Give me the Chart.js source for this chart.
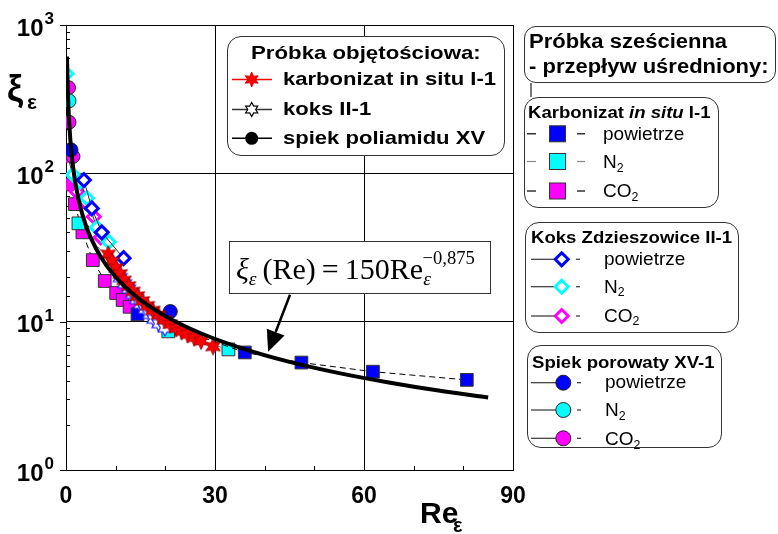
<!DOCTYPE html>
<html>
<head>
<meta charset="utf-8">
<script src="https://cdn.jsdelivr.net/npm/chart.js@4.4.1/dist/chart.umd.min.js"></script>
<style>
body { margin: 0; background: #fff; }
#wrap { position: relative; width: 778px; height: 534px; overflow: hidden; font-family: "Liberation Sans", Arial, sans-serif; }
#c { position: absolute; left: 0; top: 0; }
.box { position: absolute; border: 1.3px solid #333; border-radius: 12px; background: #fff; box-sizing: border-box; }
.t { position: absolute; white-space: nowrap; line-height: 1; transform-origin: 0 0; color: #000; }
.sub { font-size: 0.65em; position: relative; top: 0.3em; }
#marks { position: absolute; left: 0; top: 0; }
</style>
</head>
<body>
<div id="wrap">
  <canvas id="c" width="778" height="534"></canvas>
</div>
<script>
// --- dane ---
// dopasowanie xi = 150 Re^-0.875
const fitRe = [0.2, 0.3, 0.5, 0.75, 1, 1.5, 2, 3, 4, 5, 7, 10, 14, 20, 27, 35, 45, 55, 65, 75, 85];
const fitXi = [613, 430, 275, 193, 150, 105, 81.8, 57.4, 44.6, 36.7, 27.3, 20.0, 14.9, 10.9, 8.39, 6.69, 5.36, 4.50, 3.89, 3.43, 3.08];

// probka objetosciowa
const karbVolRe = [8.5, 9.3, 10.1, 10.9, 11.7, 12.6, 13.5, 14.4, 15.4, 16.4, 17.5, 18.6, 19.8, 21.0, 22.2, 23.3, 24.5, 25.8, 27.2, 29.6];
const karbVolXi = [28.5, 25.4, 23.0, 21.0, 19.0, 17.4, 16.0, 14.9, 13.8, 12.8, 11.9, 11.1, 10.3, 9.6, 9.0, 8.6, 8.2, 7.8, 7.4, 6.8];
const koksVolRe = [10.9, 11.8, 12.6, 13.4, 14.2, 15.0, 15.9, 16.8, 17.7, 18.7, 19.9];
const koksVolXi = [19.8, 18.0, 16.6, 15.3, 14.1, 13.1, 12.1, 11.2, 10.4, 9.7, 9.1];

// probka szescienna - karbonizat (kwadraty)
const karbPowRe = [14.4, 36.0, 47.4, 61.8, 80.7];
const karbPowXi = [11.2, 6.2, 5.3, 4.6, 4.05];
const karbN2Re = [2.5, 20.6, 32.7];
const karbN2Xi = [46, 8.6, 6.5];
const karbCO2Re = [1.2, 1.8, 3.3, 5.4, 7.8, 10.1, 11.4, 12.8];
const karbCO2Xi = [84, 62, 40, 26, 18.8, 15.6, 14.0, 12.6];

// koks Zdzieszowice (romby)
const koksPowRe = [3.6, 5.2, 7.2, 11.6];
const koksPowXi = [90, 58, 40, 26.8];
const koksN2Re = [0.1, 1.4, 2.8, 4.2, 6.2, 8.6];
const koksN2Xi = [470, 98, 88, 68, 43, 34.5];
const koksCO2Re = [0.3, 2.2, 3.9, 5.6, 7.0];
const koksCO2Xi = [133, 75, 64, 51, 37];

// spiek porowaty (kola)
const spiekPowRe = [1.0, 21.0];
const spiekPowXi = [144, 11.7];
const spiekN2Re = [0.6];
const spiekN2Xi = [308];
const spiekCO2Re = [0.5, 0.6, 1.4];
const spiekCO2Xi = [378, 221, 130];

const xLabels = [0, 30, 60, 90];
const yLabels = [1, 10, 100, 1000];

const pts = (xs, ys) => xs.map((x, i) => ({ x: x, y: ys[i] }));

function starCanvas(R, r, fill, stroke, lw) {
    const s = Math.ceil(2 * R + lw + 2);
    const c = document.createElement('canvas');
    c.width = s; c.height = s;
    const g = c.getContext('2d');
    g.beginPath();
    for (let i = 0; i < 12; i++) {
        const a = -Math.PI / 2 + i * Math.PI / 6;
        const rr = i % 2 ? r : R;
        g.lineTo(s / 2 + rr * Math.cos(a), s / 2 + rr * Math.sin(a));
    }
    g.closePath();
    g.fillStyle = fill; g.fill();
    g.lineWidth = lw; g.strokeStyle = stroke; g.stroke();
    return c;
}

const redStar = starCanvas(8.5, 4.3, '#ff0000', '#900000', 0.8);
const blueStar = starCanvas(8, 4.6, '#ffffff', '#1a1aff', 1.2);

function squares(xs, ys, color, lineColor) {
    return { data: pts(xs, ys), showLine: true, borderColor: lineColor, borderWidth: 1, borderDash: [6, 4],
        pointStyle: 'rect', pointRadius: 9, pointBackgroundColor: color, pointBorderColor: '#333', pointBorderWidth: 1 };
}
function diamonds(xs, ys, color) {
    return { data: pts(xs, ys), showLine: true, borderColor: '#333', borderWidth: 1,
        pointStyle: 'rectRot', pointRadius: 6.5, pointBackgroundColor: '#fff', pointBorderColor: color, pointBorderWidth: 3 };
}
function circles(xs, ys, color) {
    return { data: pts(xs, ys), showLine: false,
        pointStyle: 'circle', pointRadius: 7, pointBackgroundColor: color, pointBorderColor: '#222', pointBorderWidth: 1 };
}

const datasets = [
    { data: pts(fitRe, fitXi), showLine: true, borderColor: '#000', borderWidth: 4, pointRadius: 0, cubicInterpolationMode: 'monotone' },
    { data: pts(karbVolRe, karbVolXi), showLine: true, borderColor: '#ff0000', borderWidth: 1, pointStyle: redStar },
    { data: pts(koksVolRe, koksVolXi), showLine: true, borderColor: '#333', borderWidth: 1, pointStyle: blueStar },
    circles(spiekPowRe, spiekPowXi, '#0000ff'),
    circles(spiekN2Re, spiekN2Xi, '#00ffff'),
    circles(spiekCO2Re, spiekCO2Xi, '#ff00ff'),
    diamonds(koksPowRe, koksPowXi, '#0000ff'),
    diamonds(koksN2Re, koksN2Xi, '#00ffff'),
    diamonds(koksCO2Re, koksCO2Xi, '#ff00ff'),
    squares(karbPowRe, karbPowXi, '#0000ff', '#000'),
    squares(karbN2Re, karbN2Xi, '#00ffff', '#777'),
    squares(karbCO2Re, karbCO2Xi, '#ff00ff', '#000')
];

// Osie, podzialki, opisy i strzalka
const axisDecor = {
    id: 'axisDecor',
    beforeDatasetsDraw(chart) {
        const { ctx, chartArea: a, scales: { x, y } } = chart;
        ctx.save();
        ctx.strokeStyle = '#000';
        ctx.lineWidth = 1;
        ctx.strokeRect(a.left + 0.5, a.top + 0.5, a.right - a.left, a.bottom - a.top);
        ctx.beginPath();
        y.ticks.forEach(t => {
            const py = Math.round(y.getPixelForValue(t.value)) + 0.5;
            if (yLabels.includes(t.value)) {
                ctx.moveTo(a.left - 6, py); ctx.lineTo(a.left, py);
            } else {
                ctx.moveTo(a.left, py); ctx.lineTo(a.left + 4, py);
            }
        });
        x.ticks.forEach(t => {
            if (xLabels.includes(t.value)) return;
            const px = Math.round(x.getPixelForValue(t.value)) + 0.5;
            ctx.moveTo(px, a.bottom); ctx.lineTo(px, a.bottom - 4);
        });
        ctx.stroke();
        ctx.restore();
    },
    afterDraw(chart) {
        const { ctx, scales: { x, y } } = chart;
        ctx.save();
        ctx.fillStyle = '#000';
        ctx.textBaseline = 'alphabetic';
        // etykiety osi X
        ctx.font = 'bold 23px "Liberation Sans", Arial';
        ctx.textAlign = 'center';
        xLabels.forEach(v => ctx.fillText(String(v), x.getPixelForValue(v), 503));
        // etykiety osi Y: 10^n
        ctx.textAlign = 'left';
        yLabels.forEach((v, i) => {
            const py = y.getPixelForValue(v);
            ctx.font = 'bold 24px "Liberation Sans", Arial';
            const w = ctx.measureText('10').width;
            ctx.fillText('10', 43.5 - w, py + 10.5);
            ctx.font = 'bold 17px "Liberation Sans", Arial';
            ctx.fillText(String(i), 44.5, py - 1);
        });
        // tytuly osi
        ctx.font = 'bold 36px "Liberation Sans", Arial';
        ctx.fillText('ξ', 7, 101);
        ctx.font = 'bold 21px "Liberation Sans", Arial';
        ctx.fillText('ε', 27, 109);
        ctx.font = 'bold 30px "Liberation Sans", Arial';
        ctx.fillText('Re', 420, 523);
        ctx.font = 'bold 20px "Liberation Sans", Arial';
        ctx.fillText('ε', 453, 532);
        // strzalka do krzywej
        const x0 = x.getPixelForValue(45.1), y0 = y.getPixelForValue(15.2);
        const x1 = x.getPixelForValue(40.7), y1 = y.getPixelForValue(6.28);
        const ang = Math.atan2(y1 - y0, x1 - x0);
        const hl = 21, hw = 9.5;
        const bx = x1 - hl * Math.cos(ang), by = y1 - hl * Math.sin(ang);
        ctx.strokeStyle = '#000';
        ctx.lineWidth = 2.5;
        ctx.beginPath(); ctx.moveTo(x0, y0); ctx.lineTo(bx, by); ctx.stroke();
        ctx.beginPath();
        ctx.moveTo(x1, y1);
        ctx.lineTo(bx + hw * Math.sin(ang), by - hw * Math.cos(ang));
        ctx.lineTo(bx - hw * Math.sin(ang), by + hw * Math.cos(ang));
        ctx.closePath(); ctx.fill();
        ctx.restore();
    }
};

new Chart(document.getElementById('c'), {
    type: 'scatter',
    data: { datasets: datasets },
    options: {
        responsive: false,
        animation: false,
        devicePixelRatio: 1,
        events: [],
        layout: { padding: { left: 66, top: 25, right: 265, bottom: 64 } },
        plugins: { legend: { display: false }, tooltip: { enabled: false } },
        scales: {
            x: {
                type: 'linear', min: 0, max: 90,
                ticks: { display: false, stepSize: 10 },
                grid: { drawTicks: false, color: c => (c.tick && (c.tick.value === 30 || c.tick.value === 60)) ? '#000' : 'rgba(0,0,0,0)' },
                border: { display: true, color: '#000', width: 1 }
            },
            y: {
                type: 'logarithmic', min: 1, max: 1000,
                ticks: { display: false },
                grid: { drawTicks: false, color: c => (c.tick && (c.tick.value === 10 || c.tick.value === 100)) ? '#000' : 'rgba(0,0,0,0)' },
                border: { display: true, color: '#000', width: 1 }
            }
        }
    },
    plugins: [axisDecor]
});

// --- legendy i wzor (HTML) ---
const wrap = document.getElementById('wrap');

function addBox(left, top, w, h, radius) {
    const d = document.createElement('div');
    d.className = 'box';
    Object.assign(d.style, { left: left + 'px', top: top + 'px', width: w + 'px', height: h + 'px' });
    if (radius !== undefined) d.style.borderRadius = radius + 'px';
    wrap.appendChild(d);
    return d;
}

function addText(html, left, base, size, opts) {
    opts = opts || {};
    const d = document.createElement('div');
    d.className = 't';
    d.innerHTML = html;
    d.style.fontSize = size + 'px';
    if (opts.bold) d.style.fontWeight = 'bold';
    if (opts.serif) d.style.fontFamily = '"Liberation Serif", "Times New Roman", serif';
    const asc = opts.serif ? 0.8375 : 0.8465;
    d.style.top = (base - asc * size) + 'px';
    const sx = opts.sx || 1;
    if (sx !== 1) d.style.transform = 'scaleX(' + sx + ')';
    wrap.appendChild(d);
    if (opts.center) left = left - d.offsetWidth * sx / 2;
    d.style.left = left + 'px';
    return d;
}

addBox(524, 26, 252, 57, 12);
addBox(524, 97, 195, 111, 14);
addBox(525, 222, 214, 111, 14);
addBox(527, 345, 195, 103, 14);
addBox(227, 36, 278, 120, 14);
addBox(229, 241, 262, 53, 0);

const svgNS = 'http://www.w3.org/2000/svg';
const svg = document.createElementNS(svgNS, 'svg');
svg.setAttribute('id', 'marks');
svg.setAttribute('width', '778');
svg.setAttribute('height', '534');
wrap.appendChild(svg);

function el(name, attrs) {
    const e = document.createElementNS(svgNS, name);
    for (const k in attrs) e.setAttribute(k, attrs[k]);
    svg.appendChild(e);
    return e;
}
function starPts(cx, cy, R, r) {
    const p = [];
    for (let i = 0; i < 12; i++) {
        const a = -Math.PI / 2 + i * Math.PI / 6;
        const rr = i % 2 ? r : R;
        p.push((cx + rr * Math.cos(a)).toFixed(2) + ',' + (cy + rr * Math.sin(a)).toFixed(2));
    }
    return p.join(' ');
}

// laczenie ramek po prawej
el('line', { x1: 531, y1: 83, x2: 531, y2: 97, stroke: '#333', 'stroke-width': 1.3 });

// legenda wewnatrz wykresu
el('line', { x1: 232, y1: 79.5, x2: 272, y2: 79.5, stroke: '#ff0000', 'stroke-width': 1.3 });
el('polygon', { points: starPts(251.7, 79.5, 7.5, 3.8), fill: '#ff0000', stroke: '#c00000', 'stroke-width': 0.8 });
el('line', { x1: 232, y1: 109.5, x2: 272, y2: 109.5, stroke: '#333', 'stroke-width': 1.3 });
el('polygon', { points: starPts(251.7, 109.5, 7, 4), fill: '#fff', stroke: '#000', 'stroke-width': 1.2 });
el('line', { x1: 232, y1: 138.3, x2: 272, y2: 138.3, stroke: '#000', 'stroke-width': 1.6 });
el('circle', { cx: 251.7, cy: 138.3, r: 6.5, fill: '#000' });

addText('Próbka objętościowa:', 366, 59.3, 19, { bold: true, sx: 1.17, center: true });
addText('karbonizat in situ I-1', 282.7, 85, 19, { bold: true, sx: 1.16 });
addText('koks II-1', 282.7, 115, 19, { bold: true, sx: 1.16 });
addText('spiek poliamidu XV', 282.7, 144, 19, { bold: true, sx: 1.16 });

// legenda prawa
addText('Próbka sześcienna', 529, 48, 20, { bold: true, sx: 1.1 });
addText('- przepływ uśredniony:', 529, 73, 20, { bold: true, sx: 1.1 });

const gasLabels = ['powietrze', 'N<span class="sub">2</span>', 'CO<span class="sub">2</span>'];
const gasColors = ['#0000ff', '#00ffff', '#ff00ff'];

addText('Karbonizat <i>in situ</i> I-1', 528, 118.3, 16, { bold: true, sx: 1.16 });
[133.8, 161.5, 191].forEach((cy, i) => {
    const lc = i === 1 ? '#888' : '#000';
    el('line', { x1: 527, y1: cy, x2: 536, y2: cy, stroke: lc, 'stroke-width': 1.2 });
    el('line', { x1: 577, y1: cy, x2: 585, y2: cy, stroke: lc, 'stroke-width': 1.2 });
    el('rect', { x: 549.5, y: cy - 8, width: 16, height: 16, fill: gasColors[i], stroke: '#333', 'stroke-width': 1 });
    addText(gasLabels[i], 603, [140, 168.3, 197.3][i], 19);
});

addText('Koks Zdzieszowice II-1', 531, 243.3, 16, { bold: true, sx: 1.16 });
[259.3, 286.7, 316].forEach((cy, i) => {
    el('line', { x1: 531, y1: cy, x2: 555, y2: cy, stroke: '#333', 'stroke-width': 1.2 });
    el('line', { x1: 576, y1: cy, x2: 580, y2: cy, stroke: '#333', 'stroke-width': 1.2 });
    el('polygon', { points: [[561.7, cy - 6.5], [568.2, cy], [561.7, cy + 6.5], [555.2, cy]].map(p => p.join(',')).join(' '),
        fill: '#fff', stroke: gasColors[i], 'stroke-width': 3 });
    addText(gasLabels[i], 604, [265, 292.7, 321.7][i], 19);
});

addText('Spiek porowaty XV-1', 531.7, 368.3, 16, { bold: true, sx: 1.16 });
[382.7, 410, 438.3].forEach((cy, i) => {
    el('line', { x1: 531, y1: cy, x2: 556, y2: cy, stroke: '#333', 'stroke-width': 1.2 });
    el('line', { x1: 577, y1: cy, x2: 581, y2: cy, stroke: '#333', 'stroke-width': 1.2 });
    el('circle', { cx: 563.3, cy: cy, r: 7.5, fill: gasColors[i], stroke: '#222', 'stroke-width': 1 });
    addText(gasLabels[i], 605, [388.3, 416, 445][i], 19);
});

// wzor dopasowania
addText('<i>ξ</i><span class="sub"><i>ε</i></span>&thinsp;(Re)&thinsp;=&thinsp;150Re<span class="sub"><i>ε</i></span><span style="font-size:0.62em;position:relative;top:-0.8em;margin-left:-0.45em">−0,875</span>',
    236, 279, 30, { serif: true });
</script>
</body>
</html>
